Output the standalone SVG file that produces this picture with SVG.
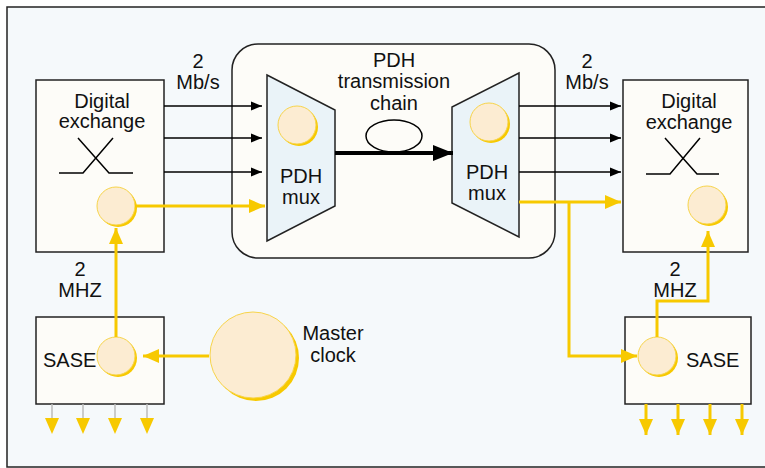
<svg xmlns="http://www.w3.org/2000/svg" width="765" height="468" viewBox="0 0 765 468">
<defs>
<style>
text{font-family:"Liberation Sans",Arial,sans-serif;font-size:20px;fill:#111;}
.c{text-anchor:middle;}
.box{fill:#fdfcf8;stroke:#222;stroke-width:1.5;}
.mux{fill:#eaf3f8;stroke:#222;stroke-width:1.5;}
.blk{stroke:#000;stroke-width:1.5;fill:none;}
.yel{stroke:#f7c900;stroke-width:3;fill:none;}
.sh{fill:#f7c900;}
.cf{fill:#fcecd2;stroke:#f7d44a;stroke-width:1;}
</style>
<marker id="ab" markerUnits="userSpaceOnUse" markerWidth="12" markerHeight="10" refX="11" refY="5" orient="auto"><path d="M0,0.5 L11,5 L0,9.5 z" fill="#000"/></marker>
<marker id="ay" markerUnits="userSpaceOnUse" markerWidth="16" markerHeight="14" refX="16" refY="7" orient="auto"><path d="M0,0 L16,7 L0,14 z" fill="#f7c900"/></marker>
<marker id="at" markerUnits="userSpaceOnUse" markerWidth="20" markerHeight="16" refX="20" refY="8" orient="auto"><path d="M0,0 L20,8 L0,16 z" fill="#000"/></marker>
</defs>
<rect x="7" y="7" width="770" height="460" fill="#f5f9fb" stroke="#222" stroke-width="1.5"/>

<g id="chain">
<rect x="232" y="44" width="323" height="214" rx="26" class="box"/>
<text class="c" x="394" y="67">PDH</text>
<text class="c" x="394" y="88">transmission</text>
<text class="c" x="394" y="110">chain</text>
<ellipse cx="394" cy="136" rx="28" ry="16" fill="none" stroke="#000" stroke-width="1.5"/>
</g>

<g id="de-left">
<rect x="36" y="80" width="128" height="172" class="box"/>
<text class="c" x="102" y="108">Digital</text>
<text class="c" x="102" y="128">exchange</text>
<polyline class="blk" points="59,173 83,173 113,138"/>
<polyline class="blk" points="78,138 109,173 133,173"/>
<circle cx="118" cy="208" r="19" class="sh"/>
<circle cx="116" cy="206" r="19" class="cf"/>
</g>

<g id="mux-left">
<polygon points="267,75 335,110 335,206 267,241" class="mux"/>
<circle cx="299" cy="127" r="19" class="sh"/>
<circle cx="297" cy="125" r="19" class="cf"/>
<text class="c" x="301" y="183">PDH</text>
<text class="c" x="301" y="204">mux</text>
</g>

<g id="mux-right">
<polygon points="519,73 452,107 452,203 519,237" class="mux"/>
<circle cx="491" cy="124" r="19" class="sh"/>
<circle cx="489" cy="122" r="19" class="cf"/>
<text class="c" x="487" y="179">PDH</text>
<text class="c" x="487" y="200">mux</text>
</g>

<g id="de-right">
<rect x="623" y="80" width="125" height="172" class="box"/>
<text class="c" x="689" y="108">Digital</text>
<text class="c" x="689" y="129">exchange</text>
<polyline class="blk" points="646,174 670,174 700,138"/>
<polyline class="blk" points="665,138 697,174 719,174"/>
<circle cx="709" cy="207" r="19" class="sh"/>
<circle cx="707" cy="205" r="19" class="cf"/>
</g>

<g id="sase-left">
<rect x="36" y="317" width="128" height="87" class="box"/>
<text x="43" y="367">SASE</text>
<circle cx="118" cy="358" r="19" class="sh"/>
<circle cx="116" cy="356" r="19" class="cf"/>
</g>

<g id="sase-right">
<rect x="625" y="317" width="126" height="87" class="box"/>
<text x="686" y="367">SASE</text>
<circle cx="659" cy="358" r="19" class="sh"/>
<circle cx="657" cy="356" r="19" class="cf"/>
</g>

<g id="master-clock">
<circle cx="256" cy="358" r="43" class="sh"/>
<circle cx="253" cy="355" r="43" class="cf"/>
<text class="c" x="333" y="340">Master</text>
<text class="c" x="333" y="362">clock</text>
</g>

<g id="connectors">
<line class="blk" x1="164" y1="106" x2="262" y2="106" marker-end="url(#ab)"/>
<line class="blk" x1="164" y1="138" x2="262" y2="138" marker-end="url(#ab)"/>
<line class="blk" x1="164" y1="172" x2="262" y2="172" marker-end="url(#ab)"/>
<line class="yel" x1="135" y1="206" x2="265" y2="206" marker-end="url(#ay)"/>
<line x1="335" y1="153" x2="453" y2="153" stroke="#000" stroke-width="4" marker-end="url(#at)"/>
<line class="blk" x1="519" y1="106" x2="621" y2="106" marker-end="url(#ab)"/>
<line class="blk" x1="519" y1="138" x2="621" y2="138" marker-end="url(#ab)"/>
<line class="blk" x1="519" y1="172" x2="621" y2="172" marker-end="url(#ab)"/>
<line class="yel" x1="519" y1="202" x2="621" y2="202" marker-end="url(#ay)"/>
<polyline class="yel" points="569,202 569,356 637,356" marker-end="url(#ay)"/>
<line class="yel" x1="116" y1="337" x2="116" y2="228" marker-end="url(#ay)"/>
<line class="yel" x1="209" y1="356" x2="143" y2="356" marker-end="url(#ay)"/>
<polyline class="yel" points="657,337 657,301 708,301 708,231" marker-end="url(#ay)"/>
<g stroke="#bbb" stroke-width="1.5">
<line x1="52" y1="404" x2="52" y2="420"/><line x1="83" y1="404" x2="83" y2="420"/><line x1="115" y1="404" x2="115" y2="420"/><line x1="147" y1="404" x2="147" y2="420"/>
</g>
<g fill="#f7c900">
<path d="M45,418 L59,418 L52,434 z"/><path d="M76,418 L90,418 L83,434 z"/><path d="M108,418 L122,418 L115,434 z"/><path d="M140,418 L154,418 L147,434 z"/>
</g>
<line class="yel" x1="646" y1="404" x2="646" y2="435" marker-end="url(#ay)"/>
<line class="yel" x1="678" y1="404" x2="678" y2="435" marker-end="url(#ay)"/>
<line class="yel" x1="710" y1="404" x2="710" y2="435" marker-end="url(#ay)"/>
<line class="yel" x1="742" y1="404" x2="742" y2="435" marker-end="url(#ay)"/>
</g>

<g id="labels">
<text class="c" x="198" y="68">2</text>
<text class="c" x="198" y="89">Mb/s</text>
<text class="c" x="587" y="68">2</text>
<text class="c" x="587" y="89">Mb/s</text>
<text class="c" x="80" y="276">2</text>
<text class="c" x="80" y="297">MHZ</text>
<text class="c" x="675" y="276">2</text>
<text class="c" x="675" y="297">MHZ</text>
</g>
</svg>
